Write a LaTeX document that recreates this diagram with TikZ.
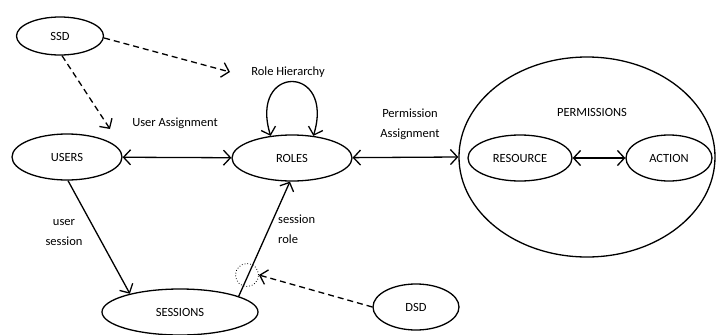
\documentclass[tikz,border=0pt]{standalone}
\usepackage{fontspec}
\setmainfont{Carlito}
\usetikzlibrary{arrows.meta,shapes.geometric}
\begin{document}
\begin{tikzpicture}[x=1pt,y=-1pt,
  ent/.style={draw,ellipse,line width=1.3pt,inner sep=0pt,font=\fontsize{12.5}{15}\selectfont},
  lbl/.style={font=\fontsize{12.5}{15}\selectfont,inner sep=1pt},
  barb/.tip={Straight Barb[length=7pt,width=15pt,line width=1.3pt]},
  tip/.style={line width=1.3pt,arrows={-barb}},
  dtip/.style={line width=1.3pt,arrows={barb-barb}},
  dsh/.style={dash pattern=on 6pt off 4pt}]
\useasboundingbox (0,0) rectangle (716,335);
\node[ent,minimum width=87,minimum height=38] (ssd) at (60,36) {SSD};
\node[ent,minimum width=110,minimum height=46] (users) at (67,157) {USERS};
\node[ent,minimum width=120,minimum height=46] (roles) at (292,158) {ROLES};
\node[ent,minimum width=156,minimum height=46] (sessions) at (180,312) {SESSIONS};
\node[ent,minimum width=256,minimum height=200] (perms) at (587,157) {};
\node[lbl] (permlbl) at (592,112) {PERMISSIONS};
\node[ent,minimum width=104,minimum height=46] (resource) at (520,158) {RESOURCE};
\node[ent,minimum width=86,minimum height=46] (action) at (669,158) {ACTION};
\node[ent,minimum width=86,minimum height=46] (dsd) at (416,307) {DSD};
\node[draw,circle,dotted,line width=0.8pt,minimum size=23,inner sep=0pt] (mark) at (247,275) {};
\coordinate (rh) at (230,72);
\coordinate (ua) at (110,129);
% labels
\node[lbl] (rhl) at (288,72) {Role Hierarchy};
\node[lbl] (ual) at (175,123) {User Assignment};
\node[lbl,align=center] (pal) at (410,124) {Permission\\[5pt]Assignment};
\node[lbl,align=center] (usl) at (64,233) {user\\[5pt]session};
\node[lbl,align=left,anchor=west] (srl) at (277,229) {session\\[5pt]role};
% connectors
\draw[dtip] (users) -- (roles);
\draw[dtip] (roles) -- (perms.west);
\draw[dtip] (resource) -- (action);
\draw[dtip] (roles.134) .. controls +(-22,-72) and +(22,-72) .. (roles.46);
\draw[tip,dsh] (ssd.east) ++(0,2) -- (rh);
\draw[tip,dsh] (ssd.south) ++(2,0) -- (ua);
\draw[tip] (users.south) ++(1,0) -- (sessions.160);
\draw[tip] (sessions.15) -- (roles.265);
\draw[tip,dsh] (dsd.west) -- (mark.east);
\end{tikzpicture}
\end{document}
